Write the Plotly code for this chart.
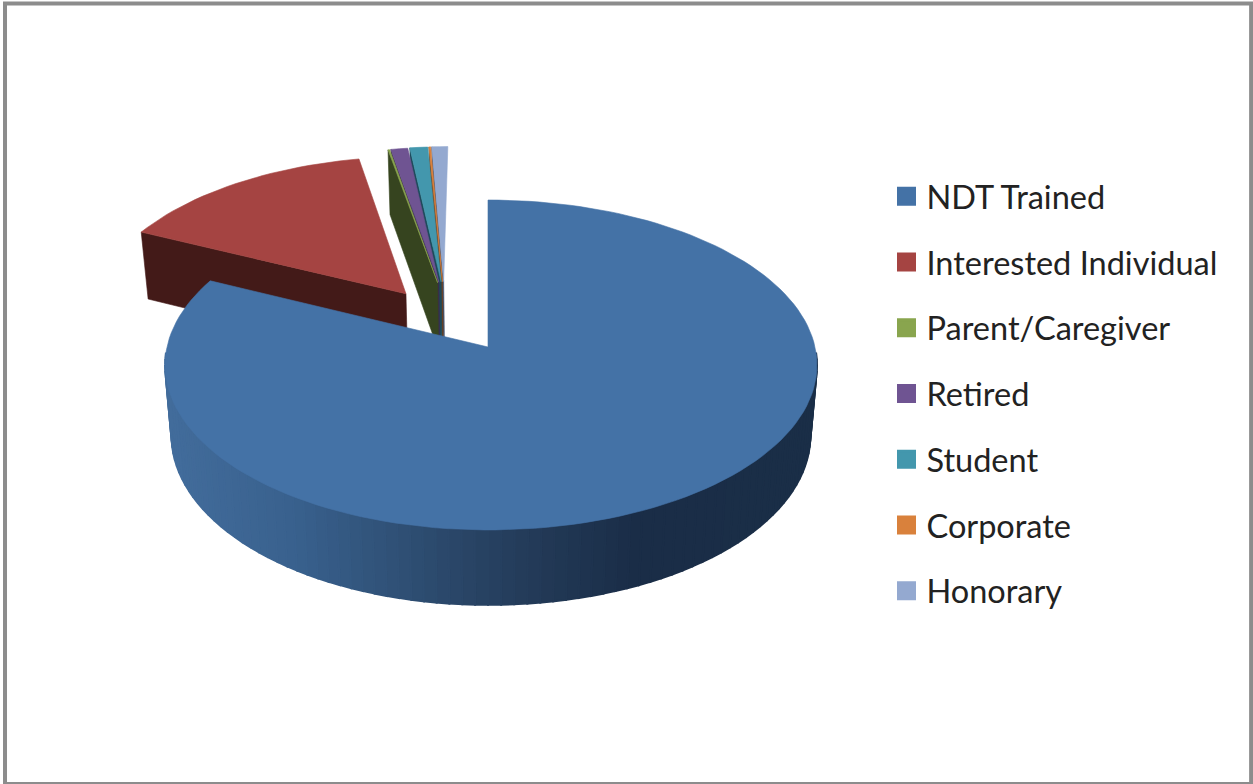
import math
import plotly.graph_objects as go

# ---- data (percent shares) ----
categories = ["NDT Trained", "Interested Individual", "Parent/Caregiver",
              "Retired", "Student", "Corporate", "Honorary"]
values = [82.0, 14.9, 0.1, 0.97, 1.03, 0.1, 0.92]

# ---- styles ----
top_colors = ["#4472a6", "#a54442", "#89a54e", "#6f5492", "#4397ad", "#d9813c", "#94a9d0"]
wall_colors = ["#1c2f4a", "#431a18", "#36441f", "#3a2a50", "#1d4a5a", "#6e3f1c", "#3f5272"]
wall_grad = [(170, (66, 108, 155)), (290, (57, 97, 142)), (420, (45, 76, 112)),
             (520, (36, 60, 90)), (635, (26, 45, 71)), (820, (26, 46, 71))]

# ---- projection: a tilted disc seen in perspective, in pixel-scaled axes ----
CX, CY, RX_LEFT, RX_RIGHT, RY, K, DEPTH, BOTTOM_SCALE = 488.0, 347.0, 321.0, 327.0, 163.0, 0.109, 70.0, 0.98
PULL = 0.43
SLIVER_PULL_X, SLIVER_PULL_Z = 0.12, 0.42
SLIVER_SHIFT = -0.141


def project(x, z, level=0):
    p = 1.0 / (1.0 + K * z)
    s = BOTTOM_SCALE if level else 1.0
    rx = RX_RIGHT if x > 0 else RX_LEFT
    return CX + rx * s * x * p, CY - RY * s * z * p + (DEPTH * p if level else 0.0)


def lerp_color(px):
    for (x0, c0), (x1, c1) in zip(wall_grad, wall_grad[1:]):
        if px <= x1:
            t = max(0.0, (px - x0) / (x1 - x0))
            return "rgb(%d,%d,%d)" % tuple(round(a + (b - a) * t) for a, b in zip(c0, c1))
    return "rgb(%d,%d,%d)" % wall_grad[-1][1]


total = sum(values)
spans = []
angle = 0.0
for v in values:
    sweep = 360.0 * v / total
    spans.append((angle, angle + sweep))
    angle += sweep

fig = go.Figure()


def poly(pts, color, name, width=0.6):
    fig.add_trace(go.Scatter(
        x=[p[0] for p in pts] + [pts[0][0]], y=[p[1] for p in pts] + [pts[0][1]],
        mode="lines", fill="toself", fillcolor=color,
        line=dict(color=color, width=width), name=name, showlegend=False, hoverinfo="name"))


def slice_geometry(i):
    a0, a1 = spans[i]
    mid = math.radians((a0 + a1) / 2)
    ox = oz = 0.0
    if i == 1:
        ox, oz = math.sin(mid) * PULL, math.cos(mid) * PULL
    elif i > 1:
        ox = math.sin(mid) * SLIVER_PULL_X + SLIVER_SHIFT
        oz = math.cos(mid) * SLIVER_PULL_Z
    n = max(2, int((a1 - a0) / 2))
    rim = []
    for j in range(n + 1):
        t = math.radians(a0 + (a1 - a0) * j / n)
        rim.append((ox + math.sin(t), oz + math.cos(t)))
    return (ox, oz), rim


# paint from the far slivers to the large near slice
for i in [6, 5, 4, 3, 2, 1]:
    apex, rim = slice_geometry(i)
    # the counter-clockwise cut face is the one turned to the viewer
    end = rim[0]
    poly([project(*apex, 0), project(*end, 0), project(*end, 1), project(*apex, 1)],
         wall_colors[i], categories[i])
    poly([project(*apex, 0)] + [project(*q, 0) for q in rim], top_colors[i], categories[i])

apex, rim = slice_geometry(0)
steps = 84
for j in range(steps):
    t0 = math.radians(92 + (268 - 92) * j / steps)
    t1 = math.radians(92 + (268 - 92) * (j + 1) / steps)
    q0, q1 = (math.sin(t0), math.cos(t0)), (math.sin(t1), math.cos(t1))
    a, b = project(*q0, 0), project(*q1, 0)
    c = lerp_color((a[0] + b[0]) / 2)
    poly([a, b, project(*q1, 1), project(*q0, 1)], c, categories[0], width=2)
poly([project(*apex, 0)] + [project(*q, 0) for q in rim], top_colors[0], categories[0])

# legend entries
for c, name in zip(top_colors, categories):
    fig.add_trace(go.Scatter(
        x=[None], y=[None], mode="markers", name=name, legendgroup=name,
        marker=dict(symbol="square", size=16, color=c, line=dict(color=c, width=3))))

fig.update_layout(
    width=1253, height=784, margin=dict(l=0, r=0, t=0, b=0),
    paper_bgcolor="white", plot_bgcolor="white",
    xaxis=dict(range=[0, 1253], visible=False, fixedrange=True),
    yaxis=dict(range=[784, 0], visible=False, fixedrange=True),
    font=dict(family="Lato", size=32.5, color="#222222"),
    legend=dict(x=0.7075, y=0.785, xanchor="left", yanchor="top",
                tracegroupgap=20.5, itemwidth=30, bgcolor="rgba(0,0,0,0)",
                itemclick=False, itemdoubleclick=False),
    shapes=[dict(type="rect", xref="paper", yref="paper", x0=0.004, x1=0.9985, y0=0.0, y1=0.9955,
                 line=dict(color="#8c8c8c", width=4), fillcolor="rgba(0,0,0,0)")],
)

fig.write_html("out.html", config=dict(displayModeBar=False),
               post_script="document.body.style.margin='0';")
